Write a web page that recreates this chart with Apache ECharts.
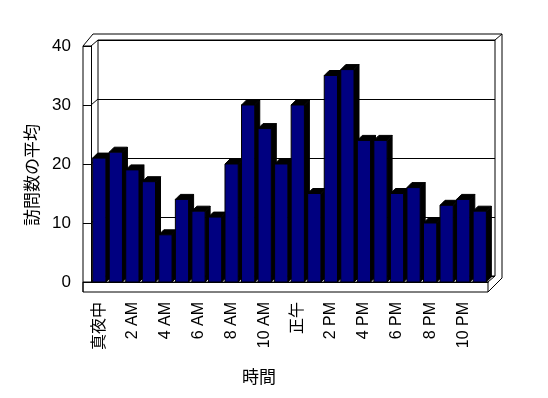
<!DOCTYPE html>
<html>
<head>
<meta charset="utf-8">
<script src="https://cdn.jsdelivr.net/npm/echarts@6/dist/echarts.min.js"></script>
<style>
  html, body { margin: 0; padding: 0; background: #fff; }
  #chart { width: 548px; height: 398px; }
</style>
</head>
<body>
<div id="chart"></div>
<script>
// 時間帯（24本、ラベルは1つおきに表示）
const hours = ['真夜中', '1 AM', '2 AM', '3 AM', '4 AM', '5 AM', '6 AM', '7 AM', '8 AM', '9 AM', '10 AM', '11 AM',
  '正午', '1 PM', '2 PM', '3 PM', '4 PM', '5 PM', '6 PM', '7 PM', '8 PM', '9 PM', '10 PM', '11 PM']
// 訪問数の平均
const visits = [21, 22, 19, 17, 8, 14, 12, 11, 20, 30, 26, 20, 30, 15, 35, 36, 24, 24, 15, 16, 10, 13, 14, 12]
// 縦軸の目盛
const yTicks = [0, 10, 20, 30, 40]

const font = "'Liberation Sans', 'Noto Sans CJK JP', sans-serif"
const cjk = "'Noto Sans CJK JP', sans-serif"

// 奥行き（棒）
const depth = [5, -5]

const chart = echarts.init(document.getElementById('chart'))

// 3D風の棒を描く
const renderBar = (params, api) => {
  const top = api.coord([api.value(0), api.value(1)])
  const base = api.coord([api.value(0), 0])
  const bw = api.size([1, 0])[0] * 0.8
  const l = top[0] - bw / 2
  const r = top[0] + bw / 2
  const dx = depth[0], dy = depth[1]
  return {
    type: 'group',
    children: [
      {
        type: 'polygon',
        shape: { points: [[r, top[1]], [r + dx, top[1] + dy], [r + dx, base[1] + dy], [r, base[1]]] },
        style: { fill: '#000', stroke: '#000', lineWidth: 1 }
      },
      {
        type: 'polygon',
        shape: { points: [[l, top[1]], [l + dx, top[1] + dy], [r + dx, top[1] + dy], [r, top[1]]] },
        style: { fill: '#000', stroke: '#000', lineWidth: 1 }
      },
      {
        type: 'rect',
        shape: { x: l, y: top[1], width: bw, height: base[1] - top[1] },
        style: { fill: '#000080', stroke: '#000', lineWidth: 1 }
      }
    ]
  }
}

const line = (pts) => ({
  type: 'polyline',
  shape: { points: pts },
  style: { stroke: '#000', lineWidth: 1, fill: null },
  z: 1
})

// 壁と床の枠
const frame = [
  line([[83, 292], [83, 46], [93, 34], [502, 34], [502, 278], [488, 292]]),
  line([[83, 46], [91, 46], [98, 40]]),
  line([[495, 40], [502, 34]]),
  line([[91, 282], [98, 276]]),
  line([[488, 282], [495, 276]]),
  {
    type: 'rect',
    shape: { x: 83, y: 282, width: 405, height: 10 },
    style: { stroke: '#000', lineWidth: 1, fill: null },
    z: 1
  },
  {
    type: 'text',
    x: 32, y: 175,
    rotation: Math.PI / 2,
    style: { text: '訪問数の平均', font: '17px ' + cjk, fill: '#000', align: 'center', verticalAlign: 'middle' }
  },
  {
    type: 'text',
    x: 259, y: 377,
    style: { text: '時間', font: '17px ' + cjk, fill: '#000', align: 'center', verticalAlign: 'middle' }
  }
]

const option = {
  backgroundColor: '#fff',
  animation: false,
  grid: [
    { left: 91, right: 60, top: 46, bottom: 116 },
    { left: 98, right: 53, top: 40, bottom: 122, show: true, borderColor: '#000', borderWidth: 1, backgroundColor: '#fff' }
  ],
  xAxis: [
    {
      type: 'category',
      data: hours,
      gridIndex: 0,
      axisLine: { lineStyle: { color: '#000' } },
      axisTick: { length: 10, lineStyle: { color: '#000' } },
      axisLabel: { interval: 1, rotate: 90, margin: 20, color: '#000', fontSize: 16, fontFamily: font }
    },
    { type: 'value', gridIndex: 1, min: 0, max: 1, show: false }
  ],
  yAxis: [
    {
      type: 'value',
      gridIndex: 0,
      min: yTicks[0],
      max: yTicks[yTicks.length - 1],
      interval: 10,
      axisLine: { show: true, lineStyle: { color: '#000' } },
      axisTick: { show: true, length: 8, lineStyle: { color: '#000' } },
      axisLabel: { margin: 20, color: '#000', fontSize: 17, fontFamily: font },
      splitLine: { show: false }
    },
    {
      type: 'value',
      gridIndex: 1,
      min: yTicks[0],
      max: yTicks[yTicks.length - 1],
      interval: 10,
      axisLine: { show: false },
      axisTick: { show: false },
      axisLabel: { show: false },
      splitLine: { lineStyle: { color: '#000', width: 1 } }
    }
  ],
  graphic: frame,
  series: [
    {
      type: 'custom',
      xAxisIndex: 0,
      yAxisIndex: 0,
      renderItem: renderBar,
      data: visits.map((v, i) => [i, v]),
      z: 5
    }
  ]
}

chart.setOption(option)

// 左の壁の目盛の斜線
const wallTicks = yTicks.slice(1, -1).map(v => {
  const fy = chart.convertToPixel({ yAxisIndex: 0 }, v)
  const by = chart.convertToPixel({ yAxisIndex: 1 }, v)
  return line([[91, fy], [98, by]])
})
chart.setOption({ graphic: frame.concat(wallTicks) })
</script>
</body>
</html>
